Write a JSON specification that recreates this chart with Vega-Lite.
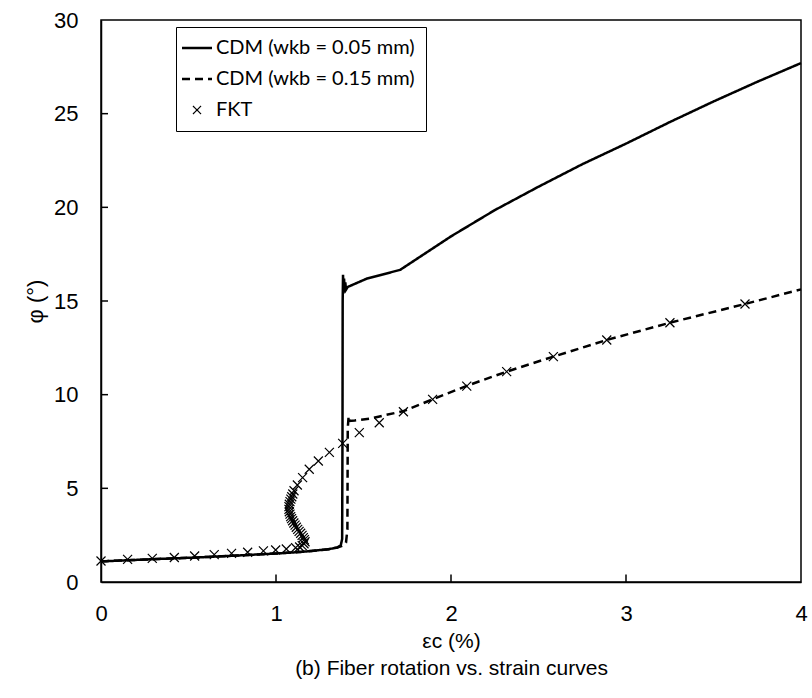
{
  "$schema": "https://vega.github.io/schema/vega-lite/v6.json",
  "width": 700,
  "height": 562,
  "autosize": {"type": "none"},
  "padding": {"left": 101, "top": 20, "right": 11, "bottom": 116},
  "background": "white",
  "config": {
    "view": {"stroke": "black", "strokeWidth": 1.5},
    "font": "Liberation Sans"
  },
  "datasets": {
    "xticks": [{"v": 1}, {"v": 2}, {"v": 3}],
    "yticks": [{"v": 5}, {"v": 10}, {"v": 15}, {"v": 20}, {"v": 25}],
    "cdm": [
      {"s": "CDM (wkb = 0.05 mm)", "o": 0, "x": 0, "y": 1.1},
      {"s": "CDM (wkb = 0.05 mm)", "o": 1, "x": 0.15, "y": 1.16},
      {"s": "CDM (wkb = 0.05 mm)", "o": 2, "x": 0.3, "y": 1.22},
      {"s": "CDM (wkb = 0.05 mm)", "o": 3, "x": 0.55, "y": 1.31},
      {"s": "CDM (wkb = 0.05 mm)", "o": 4, "x": 0.75, "y": 1.4},
      {"s": "CDM (wkb = 0.05 mm)", "o": 5, "x": 1.0, "y": 1.52},
      {"s": "CDM (wkb = 0.05 mm)", "o": 6, "x": 1.15, "y": 1.61},
      {"s": "CDM (wkb = 0.05 mm)", "o": 7, "x": 1.3, "y": 1.75},
      {"s": "CDM (wkb = 0.05 mm)", "o": 8, "x": 1.35, "y": 1.84},
      {"s": "CDM (wkb = 0.05 mm)", "o": 9, "x": 1.37, "y": 1.95},
      {"s": "CDM (wkb = 0.05 mm)", "o": 10, "x": 1.378, "y": 2.3},
      {"s": "CDM (wkb = 0.05 mm)", "o": 11, "x": 1.38, "y": 8},
      {"s": "CDM (wkb = 0.05 mm)", "o": 12, "x": 1.381, "y": 15.0},
      {"s": "CDM (wkb = 0.05 mm)", "o": 13, "x": 1.383, "y": 16.4},
      {"s": "CDM (wkb = 0.05 mm)", "o": 14, "x": 1.386, "y": 15.4},
      {"s": "CDM (wkb = 0.05 mm)", "o": 15, "x": 1.389, "y": 16.2},
      {"s": "CDM (wkb = 0.05 mm)", "o": 16, "x": 1.392, "y": 15.5},
      {"s": "CDM (wkb = 0.05 mm)", "o": 17, "x": 1.396, "y": 16.0},
      {"s": "CDM (wkb = 0.05 mm)", "o": 18, "x": 1.4, "y": 15.6},
      {"s": "CDM (wkb = 0.05 mm)", "o": 19, "x": 1.41, "y": 15.75},
      {"s": "CDM (wkb = 0.05 mm)", "o": 20, "x": 1.52, "y": 16.2},
      {"s": "CDM (wkb = 0.05 mm)", "o": 21, "x": 1.709, "y": 16.66},
      {"s": "CDM (wkb = 0.05 mm)", "o": 22, "x": 2.0, "y": 18.45},
      {"s": "CDM (wkb = 0.05 mm)", "o": 23, "x": 2.25, "y": 19.85},
      {"s": "CDM (wkb = 0.05 mm)", "o": 24, "x": 2.5, "y": 21.1},
      {"s": "CDM (wkb = 0.05 mm)", "o": 25, "x": 2.75, "y": 22.3},
      {"s": "CDM (wkb = 0.05 mm)", "o": 26, "x": 3.0, "y": 23.4},
      {"s": "CDM (wkb = 0.05 mm)", "o": 27, "x": 3.25, "y": 24.55},
      {"s": "CDM (wkb = 0.05 mm)", "o": 28, "x": 3.5, "y": 25.65},
      {"s": "CDM (wkb = 0.05 mm)", "o": 29, "x": 3.75, "y": 26.7},
      {"s": "CDM (wkb = 0.05 mm)", "o": 30, "x": 4.0, "y": 27.7},
      {"s": "CDM (wkb = 0.15 mm)", "o": 0, "x": 0, "y": 1.1},
      {"s": "CDM (wkb = 0.15 mm)", "o": 1, "x": 0.15, "y": 1.16},
      {"s": "CDM (wkb = 0.15 mm)", "o": 2, "x": 0.3, "y": 1.22},
      {"s": "CDM (wkb = 0.15 mm)", "o": 3, "x": 0.55, "y": 1.31},
      {"s": "CDM (wkb = 0.15 mm)", "o": 4, "x": 0.75, "y": 1.4},
      {"s": "CDM (wkb = 0.15 mm)", "o": 5, "x": 1.0, "y": 1.52},
      {"s": "CDM (wkb = 0.15 mm)", "o": 6, "x": 1.15, "y": 1.61},
      {"s": "CDM (wkb = 0.15 mm)", "o": 7, "x": 1.3, "y": 1.75},
      {"s": "CDM (wkb = 0.15 mm)", "o": 8, "x": 1.35, "y": 1.84},
      {"s": "CDM (wkb = 0.15 mm)", "o": 9, "x": 1.38, "y": 1.93},
      {"s": "CDM (wkb = 0.15 mm)", "o": 10, "x": 1.4, "y": 2.1},
      {"s": "CDM (wkb = 0.15 mm)", "o": 11, "x": 1.408, "y": 2.8},
      {"s": "CDM (wkb = 0.15 mm)", "o": 12, "x": 1.41, "y": 8.2},
      {"s": "CDM (wkb = 0.15 mm)", "o": 13, "x": 1.415, "y": 8.85},
      {"s": "CDM (wkb = 0.15 mm)", "o": 14, "x": 1.42, "y": 8.6},
      {"s": "CDM (wkb = 0.15 mm)", "o": 15, "x": 1.45, "y": 8.62},
      {"s": "CDM (wkb = 0.15 mm)", "o": 16, "x": 1.54, "y": 8.72},
      {"s": "CDM (wkb = 0.15 mm)", "o": 17, "x": 1.63, "y": 8.92},
      {"s": "CDM (wkb = 0.15 mm)", "o": 18, "x": 1.728, "y": 9.12},
      {"s": "CDM (wkb = 0.15 mm)", "o": 19, "x": 1.895, "y": 9.75},
      {"s": "CDM (wkb = 0.15 mm)", "o": 20, "x": 2.09, "y": 10.47},
      {"s": "CDM (wkb = 0.15 mm)", "o": 21, "x": 2.318, "y": 11.23},
      {"s": "CDM (wkb = 0.15 mm)", "o": 22, "x": 2.585, "y": 12.03},
      {"s": "CDM (wkb = 0.15 mm)", "o": 23, "x": 2.89, "y": 12.92},
      {"s": "CDM (wkb = 0.15 mm)", "o": 24, "x": 3.251, "y": 13.84},
      {"s": "CDM (wkb = 0.15 mm)", "o": 25, "x": 3.68, "y": 14.84},
      {"s": "CDM (wkb = 0.15 mm)", "o": 26, "x": 4.0, "y": 15.62}
    ],
    "fkt": [
      {"x": 0, "y": 1.12}, {"x": 0.152, "y": 1.21}, {"x": 0.293, "y": 1.26},
      {"x": 0.419, "y": 1.31}, {"x": 0.535, "y": 1.39}, {"x": 0.647, "y": 1.46},
      {"x": 0.746, "y": 1.53}, {"x": 0.838, "y": 1.59}, {"x": 0.928, "y": 1.66},
      {"x": 0.998, "y": 1.71}, {"x": 1.059, "y": 1.76}, {"x": 1.112, "y": 1.83},
      {"x": 1.135, "y": 1.87}, {"x": 1.15, "y": 1.94}, {"x": 1.16, "y": 2.04},
      {"x": 1.166, "y": 2.15}, {"x": 1.162, "y": 2.26}, {"x": 1.156, "y": 2.37},
      {"x": 1.149, "y": 2.49}, {"x": 1.141, "y": 2.6}, {"x": 1.132, "y": 2.7},
      {"x": 1.124, "y": 2.81}, {"x": 1.116, "y": 2.92}, {"x": 1.109, "y": 3.04},
      {"x": 1.102, "y": 3.15}, {"x": 1.095, "y": 3.27}, {"x": 1.089, "y": 3.38},
      {"x": 1.084, "y": 3.49}, {"x": 1.08, "y": 3.62}, {"x": 1.076, "y": 3.75},
      {"x": 1.074, "y": 3.88}, {"x": 1.074, "y": 4.02}, {"x": 1.076, "y": 4.15},
      {"x": 1.08, "y": 4.29}, {"x": 1.085, "y": 4.42}, {"x": 1.09, "y": 4.55},
      {"x": 1.096, "y": 4.7}, {"x": 1.103, "y": 4.87}, {"x": 1.122, "y": 5.18},
      {"x": 1.152, "y": 5.57}, {"x": 1.19, "y": 6.02}, {"x": 1.242, "y": 6.46},
      {"x": 1.305, "y": 6.92}, {"x": 1.381, "y": 7.4}, {"x": 1.476, "y": 7.97},
      {"x": 1.59, "y": 8.5}, {"x": 1.728, "y": 9.09}, {"x": 1.895, "y": 9.75},
      {"x": 2.09, "y": 10.46}, {"x": 2.318, "y": 11.23}, {"x": 2.585, "y": 12.03},
      {"x": 2.89, "y": 12.92}, {"x": 3.251, "y": 13.84}, {"x": 3.68, "y": 14.84}
    ]
  },
  "layer": [
    {
      "data": {"name": "cdm"},
      "mark": {"type": "line", "color": "black", "strokeWidth": 2.5},
      "encoding": {
        "x": {
          "field": "x", "type": "quantitative",
          "scale": {"domain": [0, 4], "nice": false},
          "axis": {
            "values": [0, 1, 2, 3, 4], "grid": false, "format": "d", "zindex": 1,
            "domainColor": "black", "domainWidth": 1.5, "ticks": false,
            "labelFontSize": 22, "labelColor": "black", "labelPadding": 21, "labelFlush": false,
            "labelFont": "Liberation Sans",
            "title": ["εc (%)", "(b) Fiber rotation vs. strain curves"],
            "titleFont": "Liberation Sans", "titleFontSize": 21, "titleFontWeight": "normal",
            "titleColor": "black", "titleLineHeight": 27, "titlePadding": 6
          }
        },
        "y": {
          "field": "y", "type": "quantitative",
          "scale": {"domain": [0, 30], "nice": false},
          "axis": {
            "values": [0, 5, 10, 15, 20, 25, 30], "grid": false, "format": "d", "zindex": 1,
            "domainColor": "black", "domainWidth": 1.5, "ticks": false,
            "labelFontSize": 22, "labelColor": "black", "labelPadding": 23, "labelFlush": false,
            "labelFont": "Liberation Sans",
            "title": "φ (°)", "titleFont": "Liberation Sans", "titleFontSize": 22,
            "titleFontWeight": "normal", "titleColor": "black", "titlePadding": 6
          }
        },
        "order": {"field": "o", "type": "quantitative"},
        "strokeDash": {
          "field": "s", "type": "nominal",
          "scale": {
            "domain": ["CDM (wkb = 0.05 mm)", "CDM (wkb = 0.15 mm)", "FKT"],
            "range": [[1, 0], [8, 5], [1, 0]]
          },
          "legend": {
            "title": null,
            "orient": "none",
            "legendX": 75,
            "legendY": 7,
            "strokeColor": "black",
            "fillColor": "white",
            "padding": 11,
            "rowPadding": 11,
            "labelFont": "Lato",
            "labelFontSize": 20,
            "labelColor": "black",
            "labelOffset": 9,
            "labelLimit": 500,
            "symbolType": "stroke",
            "symbolSize": 900,
            "symbolStrokeColor": "black",
            "symbolStrokeWidth": 2.5,
            "encode": {
              "symbols": {
                "update": {
                  "shape": {"signal": "datum.value === 'FKT' ? 'M-1,-1L1,1M-1,1L1,-1' : 'stroke'"},
                  "size": {"signal": "datum.value === 'FKT' ? 64 : 900"},
                  "strokeWidth": {"signal": "datum.value === 'FKT' ? 1.2 : 2.5"}
                }
              }
            }
          }
        }
      }
    },
    {
      "data": {"name": "fkt"},
      "mark": {
        "type": "point",
        "shape": "M-1,-1L1,1M-1,1L1,-1",
        "size": 81,
        "filled": false,
        "stroke": "black",
        "strokeWidth": 1.2,
        "opacity": 1
      },
      "encoding": {
        "x": {"field": "x", "type": "quantitative"},
        "y": {"field": "y", "type": "quantitative"}
      }
    },
    {
      "data": {"name": "xticks"},
      "mark": {"type": "rule", "color": "black", "strokeWidth": 1.5},
      "encoding": {
        "x": {"field": "v", "type": "quantitative"},
        "y": {"datum": 0},
        "y2": {"datum": 0.4}
      }
    },
    {
      "data": {"name": "yticks"},
      "mark": {"type": "rule", "color": "black", "strokeWidth": 1.5},
      "encoding": {
        "y": {"field": "v", "type": "quantitative"},
        "x": {"datum": 0},
        "x2": {"datum": 0.04}
      }
    }
  ]
}
